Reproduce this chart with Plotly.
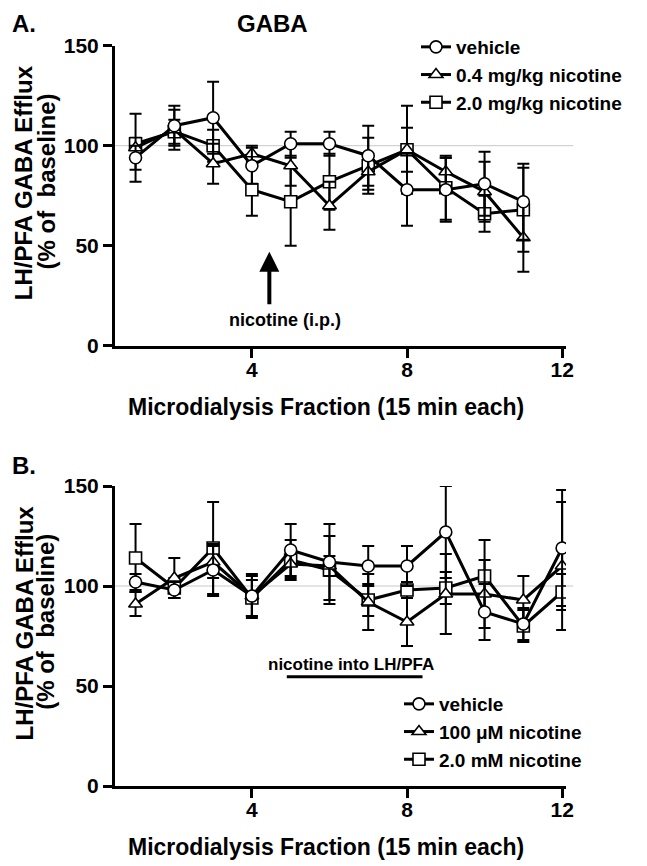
import plotly.graph_objects as go

# ---------------- data ----------------
fractions_A = [1, 2, 3, 4, 5, 6, 7, 8, 9, 10, 11]
vehicle_A = [94, 110, 114, 90, 101, 101, 95, 78, 78, 81, 72]
vehicle_A_err = [6, 10, 18, 9, 6, 6, 15, 18, 16, 16, 19]
nic04_A = [99, 108, 91, 96, 90, 70, 87, 98, 87, 77, 54]
nic04_A_err = [17, 10, 10, 4, 10, 12, 9, 22, 7, 15, 17]
nic20_A = [101, 107, 100, 78, 72, 82, 90, 98, 79, 66, 68]
nic20_A_err = [3, 6, 8, 13, 22, 14, 14, 11, 16, 9, 21]

fractions_B = [1, 2, 3, 4, 5, 6, 7, 8, 9, 10, 11, 12]
vehicle_B = [102, 98, 108, 95, 118, 112, 110, 110, 127, 87, 81, 119]
vehicle_B_err = [4, 4, 13, 10, 13, 19, 10, 10, 23, 14, 8, 29]
nic100_B = [91, 104, 112, 95, 111, 110, 92, 82, 96, 96, 93, 110]
nic100_B_err = [6, 10, 8, 11, 7, 5, 14, 12, 20, 17, 12, 32]
nic2mM_B = [114, 99, 119, 94, 113, 108, 93, 98, 99, 105, 80, 97]
nic2mM_B_err = [17, 5, 23, 9, 10, 17, 8, 4, 8, 18, 8, 9]

names_A = ["vehicle", "0.4 mg/kg nicotine", "2.0 mg/kg nicotine"]
names_B = ["vehicle", "100 \u03bcM nicotine", "2.0 mM nicotine"]
x_ticks = [4, 8, 12]
y_ticks = [0, 50, 100, 150]
baseline_value = 100
arrow_x, arrow_tip_y, arrow_tail_y = 4.45, 47, 20
infusion_start, infusion_end, infusion_y = 4.9, 8.4, 54.6

FONT = "Liberation Sans, Arial, Helvetica, sans-serif"

# page body margin offset (the figure div starts at 8,8 in the page)
OFF = 8
W, H = 647 - OFF, 866 - OFF


def px(xp, yp):
    """page pixel -> paper fraction"""
    return (xp - OFF) / W, 1 - (yp - OFF) / H


fig = go.Figure()


def add_series(x, y, err, name, symbol, xa, ya, legend):
    fig.add_trace(go.Scatter(
        x=x, y=y, name=name, mode="lines+markers",
        xaxis=xa, yaxis=ya, legend=legend,
        line=dict(color="black", width=3),
        marker=dict(symbol=symbol, size=12, color="white",
                    line=dict(color="black", width=1.6)),
        error_y=dict(type="data", array=err, visible=True,
                     color="black", thickness=2, width=6),
    ))


# draw order: square, triangle, circle (circle on top)
add_series(fractions_A, nic20_A, nic20_A_err, names_A[2], "square", "x", "y", "legend")
add_series(fractions_A, nic04_A, nic04_A_err, names_A[1], "triangle-up", "x", "y", "legend")
add_series(fractions_A, vehicle_A, vehicle_A_err, names_A[0], "circle", "x", "y", "legend")

add_series(fractions_B, nic2mM_B, nic2mM_B_err, names_B[2], "square", "x2", "y2", "legend2")
add_series(fractions_B, nic100_B, nic100_B_err, names_B[1], "triangle-up", "x2", "y2", "legend2")
add_series(fractions_B, vehicle_B, vehicle_B_err, names_B[0], "circle", "x2", "y2", "legend2")

xdom = [px(115, 0)[0], px(566, 0)[0]]
ydomA = [px(0, 345.7)[1], px(0, 45.7)[1]]
ydomB = [px(0, 786)[1], px(0, 486)[1]]

axis_common = dict(
    showline=True, linecolor="black", linewidth=3,
    ticks="outside", ticklen=9, tickwidth=3, tickcolor="black",
    showgrid=False, zeroline=False, automargin=False,
    tickfont=dict(family=FONT, size=21, color="black", weight="bold"),
)
xaxis_extra = dict(range=[0.47, 12.1], tickvals=x_ticks, ticklabelstandoff=-6)
yaxis_extra = dict(range=[0, 150], tickvals=y_ticks)

legend_font = dict(family=FONT, size=19, color="black", weight="bold")

fig.update_layout(
    width=W, height=H,
    margin=dict(l=0, r=0, t=0, b=0, pad=0, autoexpand=False),
    paper_bgcolor="white", plot_bgcolor="white",
    showlegend=True,
    xaxis=dict(domain=xdom, anchor="y", **xaxis_extra, **axis_common),
    yaxis=dict(domain=ydomA, anchor="x", **yaxis_extra, **axis_common),
    xaxis2=dict(domain=xdom, anchor="y2", **xaxis_extra, **axis_common),
    yaxis2=dict(domain=ydomB, anchor="x2", **yaxis_extra, **axis_common),
    legend=dict(x=px(416, 0)[0], y=px(0, 28)[1], xanchor="left", yanchor="top",
                traceorder="reversed", bgcolor="rgba(0,0,0,0)", borderwidth=0,
                font=legend_font),
    legend2=dict(x=px(399, 0)[0], y=px(0, 685)[1], xanchor="left", yanchor="top",
                 traceorder="reversed", bgcolor="rgba(0,0,0,0)", borderwidth=0,
                 font=legend_font),
)

# baseline reference lines
for xr, yr in (("x", "y"), ("x2", "y2")):
    fig.add_shape(type="line", xref=f"{xr} domain", yref=yr, x0=0, x1=1.016,
                  y0=baseline_value, y1=baseline_value,
                  line=dict(color="#c8c8c8", width=1), layer="below")

# infusion bar panel B
fig.add_shape(type="line", xref="x2", yref="y2", x0=infusion_start, x1=infusion_end,
              y0=infusion_y, y1=infusion_y, line=dict(color="black", width=3))


def ann(text, x, y, size, xanchor="center", yanchor="middle", angle=0, xref="paper", yref="paper"):
    fig.add_annotation(text=text, x=x, y=y, xref=xref, yref=yref, showarrow=False,
                       xanchor=xanchor, yanchor=yanchor, textangle=angle,
                       font=dict(family=FONT, size=size, color="black", weight="bold"))


# panel labels and title (kept fully inside the figure)
ann("A.", *px(10, 8), 24, xanchor="left", yanchor="top")
ann("GABA", *px(272.5, 8), 24, yanchor="top")
ann("B.", *px(10, 450), 24, xanchor="left", yanchor="top")

# y titles / x titles
for off in (0, 440.3):
    ann("LH/PFA GABA Efflux", *px(8, 182.7 + off), 24, xanchor="left", angle=-90)
    ann("(% of\u00a0 baseline)", *px(46, 181.5 + off), 24, angle=-90)
    ann("Microdialysis Fraction (15 min each)", *px(326, 407 + off), 23)

# panel A arrow + text
fig.add_annotation(x=arrow_x, y=arrow_tip_y, ax=arrow_x, ay=arrow_tail_y,
                   xref="x", yref="y", axref="x", ayref="y", text="",
                   showarrow=True, arrowhead=2, arrowsize=1, arrowwidth=4,
                   arrowcolor="black")
ann("nicotine (i.p.)", 4.85, 12.9, 18, xref="x", yref="y")

# panel B infusion label
ann("nicotine into LH/PFA", 6.56, 61, 17, xref="x2", yref="y2")

fig.write_html("out.html")
